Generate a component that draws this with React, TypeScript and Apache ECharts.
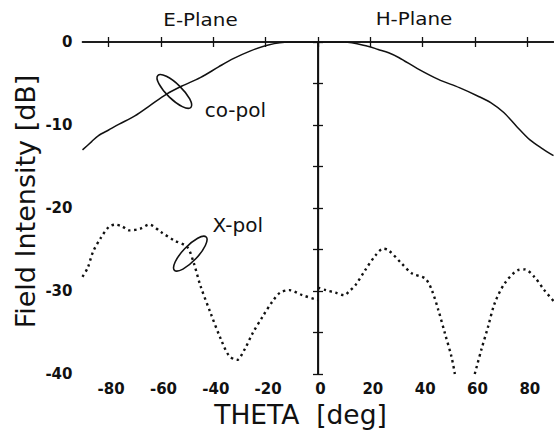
import React, { useEffect, useRef } from 'react';
import * as echarts from 'echarts';

// Axis ticks / labels
const thetaTicks = [-80, -60, -40, -20, 0, 20, 40, 60, 80];
const dbTicks = [0, -5, -10, -15, -20, -25, -30, -35, -40];

// co-pol, E-plane (theta, dB)
const coPolE: number[][] = [
  [-90, -13.0], [-86.5, -12.0], [-84, -11.3], [-80, -10.6], [-76, -9.9], [-70, -8.9],
  [-64, -7.6], [-58, -6.3], [-52, -5.3], [-45, -4.3], [-38, -3.0], [-33, -2.1],
  [-26, -1.1], [-19, -0.35], [-11, 0], [0, 0],
];
// co-pol, H-plane
const coPolH: number[][] = [
  [0, 0], [10, 0], [19, -0.5], [23, -0.9], [27, -1.3], [31, -1.9], [38, -3.2],
  [46, -4.5], [54, -5.5], [61, -6.5], [66, -7.3], [71, -8.5], [76, -10.2],
  [81, -11.8], [86, -12.9], [90, -13.7],
];
// X-pol, E-plane
const xPolE: number[][] = [
  [-90, -28.3], [-88, -27.2], [-86, -25.3], [-83, -23.6], [-80, -22.3], [-77.5, -22.0],
  [-75, -22.2], [-72, -22.7], [-68, -22.5], [-64.5, -22.0], [-60, -22.9], [-55, -23.9],
  [-50, -24.7], [-47.5, -26.6], [-45, -29.3], [-41, -32.7], [-37, -35.9], [-34, -37.8],
  [-31, -38.3], [-28, -37.0], [-25, -35.1], [-21, -33.0], [-17.5, -31.3], [-14.5, -30.2],
  [-11, -29.9], [-6, -30.5], [-1, -31.0], [0, -31.1],
];
// X-pol, H-plane (main part and tail after the null)
const xPolH: number[][] = [
  [0, -29.6], [3, -29.9], [6.7, -30.2], [10, -30.5], [12, -30.0], [14.3, -29.3],
  [18, -27.5], [22, -25.7], [25, -24.9], [27, -25.1], [32, -26.7], [36, -27.9],
  [41, -28.5], [43.5, -29.9], [46, -32.3], [48.5, -35.1], [51, -37.9], [52.3, -40],
];
const xPolHTail: number[][] = [
  [59.9, -40], [62.4, -37.1], [65, -34.3], [67.5, -31.5], [71.3, -29.1], [76.3, -27.5],
  [79, -27.4], [82.7, -28.3], [86.5, -29.9], [90, -31.2],
];

// Annotations (data coordinates)
const curveLabels = [
  { text: 'co-pol', theta: -43.3, db: -8.2 },
  { text: 'X-pol', theta: -40.3, db: -22.05 },
];
const ellipses = [
  { theta: -54.9, db: -5.96, rotation: -0.77 },
  { theta: -48.8, db: -25.5, rotation: 0.81 },
];

const FONT = '"DejaVu Sans", Verdana, sans-serif';
const INK = '#111';

export default function App() {
  const ref = useRef<HTMLDivElement>(null);
  useEffect(() => {
    const chart = echarts.init(ref.current!, null, { renderer: 'svg' });
    const axisLine = { show: true, lineStyle: { color: INK, width: 1.5 } };
    const tick = (vals: number[]) => ({
      show: true, inside: true, length: 5, customValues: vals,
      lineStyle: { color: INK, width: 1.3 },
    });
    const dotted = { color: INK, width: 2.4, type: [2.4, 3.6], cap: 'butt' };
    const solid = { color: INK, width: 1.5 };
    chart.setOption({
      animation: false,
      backgroundColor: '#fff',
      grid: { left: 82.5, right: 0.5, top: 42, bottom: 63, containLabel: false, outerBoundsMode: 'none' },
      xAxis: [
        {
          type: 'value', min: -90, max: 90, position: 'bottom',
          axisLine, axisTick: tick(thetaTicks), splitLine: { show: false },
          axisLabel: {
            customValues: thetaTicks, margin: 7, color: INK,
            fontFamily: FONT, fontSize: 15, fontWeight: 'bold', padding: [0, 0, 0, 5],
          },
        },
        {
          type: 'value', min: -90, max: 90, position: 'top',
          axisLine, axisTick: tick(thetaTicks), splitLine: { show: false },
          axisLabel: { show: false },
        },
      ],
      yAxis: [
        {
          type: 'value', min: -40, max: 0, interval: 10, position: 'left',
          axisLine, axisTick: tick(dbTicks), splitLine: { show: false },
          axisLabel: {
            margin: 10, color: INK, fontFamily: FONT, fontSize: 15, fontWeight: 'bold',
            align: 'right', padding: [1, 0, 0, 0],
          },
        },
        {
          type: 'value', min: -40, max: 0, interval: 10, position: 'right',
          axisLine, axisTick: tick(dbTicks), splitLine: { show: false },
          axisLabel: { show: false },
        },
      ],
      series: [
        {
          type: 'line', data: coPolE, showSymbol: false, smooth: 0.3,
          lineStyle: solid, silent: true,
          markLine: {
            silent: true, symbol: 'none', label: { show: false },
            lineStyle: { color: INK, width: 1.3, type: 'solid' },
            data: [{ xAxis: 0 }],
          },
        },
        { type: 'line', data: coPolH, showSymbol: false, smooth: 0.3, lineStyle: solid, silent: true },
        { type: 'line', data: xPolE, showSymbol: false, smooth: 0.3, lineStyle: dotted, silent: true },
        { type: 'line', data: xPolH, showSymbol: false, smooth: 0.3, lineStyle: dotted, silent: true },
        { type: 'line', data: xPolHTail, showSymbol: false, smooth: 0.3, lineStyle: dotted, silent: true },
      ],
    });

    const px = (t: number, d: number) =>
      chart.convertToPixel({ xAxisIndex: 0, yAxisIndex: 0 }, [t, d]) as number[];

    const graphics: any[] = [
      {
        type: 'text', x: 200.5, y: 20, scaleX: 1.17,
        style: { text: 'E-Plane', fontFamily: FONT, fontSize: 17, fill: INK, align: 'center', verticalAlign: 'middle' },
      },
      {
        type: 'text', x: 414, y: 19.5, scaleX: 1.17,
        style: { text: 'H-Plane', fontFamily: FONT, fontSize: 17, fill: INK, align: 'center', verticalAlign: 'middle' },
      },
      {
        type: 'text', x: 25, y: 201.5, rotation: Math.PI / 2,
        style: { text: 'Field Intensity [dB]', fontFamily: FONT, fontSize: 27, fill: INK, align: 'center', verticalAlign: 'middle' },
      },
      {
        type: 'text', x: 300.5, y: 414,
        style: { text: 'THETA  [deg]', fontFamily: FONT, fontSize: 26.5, fill: INK, align: 'center', verticalAlign: 'middle' },
      },
    ];
    curveLabels.forEach((l) => {
      const [x, y] = px(l.theta, l.db);
      graphics.push({
        type: 'text', x, y,
        style: { text: l.text, fontFamily: FONT, fontSize: 20, fill: INK, align: 'left', verticalAlign: 'middle' },
      });
    });
    ellipses.forEach((e) => {
      const [x, y] = px(e.theta, e.db);
      graphics.push({
        type: 'ellipse', x, y, rotation: e.rotation,
        shape: { cx: 0, cy: 0, rx: 23, ry: 7.5 },
        style: { fill: 'none', stroke: INK, lineWidth: 1.6 },
      });
    });
    chart.setOption({ graphic: graphics });

    return () => chart.dispose();
  }, []);
  return (
    <div
      ref={ref}
      style={{ position: 'absolute', left: 0, top: 0, width: 554, height: 437, background: '#fff' }}
    />
  );
}
